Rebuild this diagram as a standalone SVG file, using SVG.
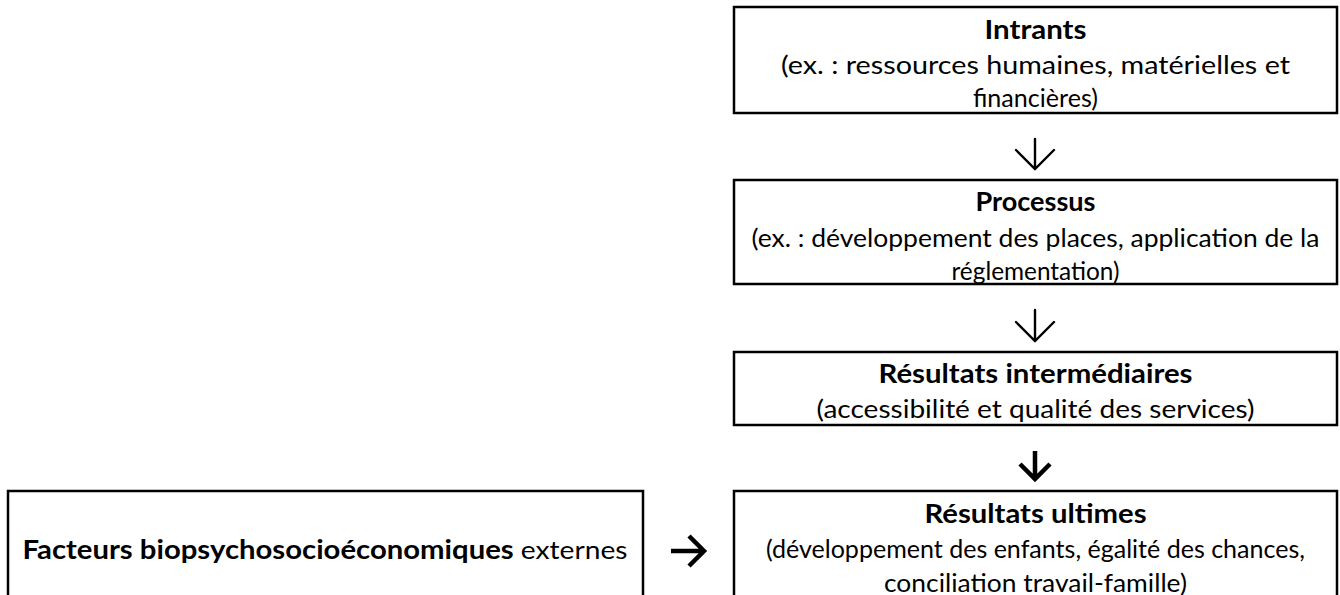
<svg xmlns="http://www.w3.org/2000/svg" width="1340" height="595" viewBox="0 0 1340 595">
<style>
  .box { fill: #ffffff; stroke: #000000; stroke-width: 2.5; }
  .t { font-family: Lato, "Open Sans", "Liberation Sans", sans-serif; font-size: 25px; fill: #000000; text-anchor: middle; }
  .b { font-weight: bold; font-size: 26px; }
  .arr { fill: none; stroke: #000000; stroke-width: 2.4; stroke-linecap: round; stroke-linejoin: miter; }
  .arrb { fill: none; stroke: #000000; stroke-width: 4.5; stroke-linecap: butt; stroke-linejoin: miter; }
</style>
<rect x="0" y="0" width="1340" height="595" fill="#ffffff"/>
<g id="intrants">
  <rect class="box" x="734" y="7" width="603" height="106"/>
  <text class="t b" x="1035.5" y="39" textLength="102" lengthAdjust="spacingAndGlyphs">Intrants</text>
  <text class="t" x="1035.5" y="74" textLength="509" lengthAdjust="spacingAndGlyphs">(ex. : ressources humaines, matérielles et</text>
  <text class="t" x="1035.5" y="107" textLength="125" lengthAdjust="spacingAndGlyphs">financières)</text>
</g>
<g id="processus">
  <rect class="box" x="734" y="180" width="603" height="104"/>
  <text class="t b" x="1035.5" y="211" textLength="120" lengthAdjust="spacingAndGlyphs">Processus</text>
  <text class="t" x="1035.5" y="247" textLength="568" lengthAdjust="spacingAndGlyphs">(ex. : développement des places, application de la</text>
  <text class="t" x="1035.5" y="280" textLength="168" lengthAdjust="spacingAndGlyphs">réglementation)</text>
</g>
<g id="resultats-intermediaires">
  <rect class="box" x="734" y="352" width="603" height="73"/>
  <text class="t b" x="1035.5" y="383" textLength="314" lengthAdjust="spacingAndGlyphs">Résultats intermédiaires</text>
  <text class="t" x="1035.5" y="418" textLength="438" lengthAdjust="spacingAndGlyphs">(accessibilité et qualité des services)</text>
</g>
<g id="resultats-ultimes">
  <rect class="box" x="734" y="491" width="603" height="120"/>
  <text class="t b" x="1035.5" y="523" textLength="222" lengthAdjust="spacingAndGlyphs">Résultats ultimes</text>
  <text class="t" x="1035.5" y="558" textLength="539" lengthAdjust="spacingAndGlyphs">(développement des enfants, égalité des chances,</text>
  <text class="t" x="1035.5" y="592" textLength="303" lengthAdjust="spacingAndGlyphs">conciliation travail-famille)</text>
</g>
<g id="facteurs">
  <rect class="box" x="8" y="491" width="635" height="120"/>
  <text class="t" x="325" y="559" textLength="605" lengthAdjust="spacingAndGlyphs"><tspan font-weight="bold" font-size="26px">Facteurs biopsychosocioéconomiques</tspan> externes</text>
</g>
<g id="connectors">
  <path class="arr" d="M1035 139 V169 M1016 150 L1035 169 L1054 150"/>
  <path class="arr" d="M1035 310 V341 M1016 322 L1035 341 L1054 322"/>
  <path class="arrb" d="M1035 451 V478 M1020 464 L1035 479 L1050 464"/>
  <path class="arrb" d="M671 551 H704 M689 536 L704 551 L689 566"/>
</g>
</svg>
